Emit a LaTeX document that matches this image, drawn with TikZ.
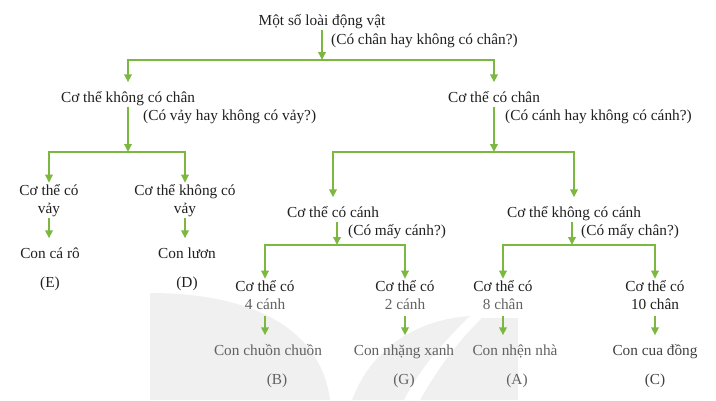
\documentclass[tikz,border=0pt]{standalone}
\usepackage{fontspec}
\setmainfont{Liberation Serif}
\usetikzlibrary{arrows.meta}
\definecolor{cay}{RGB}{124,184,64}
\definecolor{mo}{RGB}{240,240,240}
\tikzset{
  nhan/.style={anchor=base,inner sep=1pt,align=center,text=black!88,font=\fontsize{15.3}{18}\selectfont},
  mot/.style={nhan,text height=18.5pt,text depth=3.5pt},
  hoi/.style={nhan,anchor=base west},
  nhat/.style={text=black!62},
  duong/.style={color=cay,line width=1.8pt},
  ten/.style={duong,-{Triangle[length=8pt,width=7.5pt]}},
}
\begin{document}
\begin{tikzpicture}[x=1pt,y=-1pt]
  \useasboundingbox (0,0) rectangle (716,400);
  % nen mo
  \fill[mo] (150,400) -- (150,293) .. controls (262,293) and (322,335) .. (330,400) -- cycle;
  \fill[mo] (352,400) .. controls (370,352) and (412,320) .. (470,316) .. controls (440,345) and (418,372) .. (404,400) -- cycle;
  \fill[mo] (420,400) .. controls (436,372) and (456,343) .. (482,318) -- (518,318) -- (518,400) -- cycle;

  % cap 0
  \draw (322,25) node[name=root,mot,text height=11pt] {Một số loài động vật};
  \draw (330,44) node[name=q0,hoi] {(Có chân hay không có chân?)};
  \coordinate (j0) at (322,60);
  % cap 1
  \draw (128,102) node[name=khong,mot] {Cơ thể không có chân};
  \draw (142,120) node[name=q1,hoi] {(Có vảy hay không có vảy?)};
  \coordinate (j1) at (128,152);
  \draw (494,102) node[name=chan,mot] {Cơ thể có chân};
  \draw (504,120) node[name=q2,hoi] {(Có cánh hay không có cánh?)};
  \coordinate (j2) at (494,152);
  % nhanh trai
  \draw (49,213) node[name=vay,nhan] {Cơ thể có\\vảy};
  \draw (185,213) node[name=kvay,nhan] {Cơ thể không có\\vảy};
  \draw (50,258) node[name=caro,mot] {Con cá rô};
  \draw (187,258) node[name=luon,mot] {Con lươn};
  \draw (50,287) node[name=E,nhan] {(E)};
  \draw (187,287) node[name=D,nhan] {(D)};
  % nhanh phai
  \draw (333,217) node[name=canh,mot] {Cơ thể có cánh};
  \draw (347,235) node[name=q3,hoi] {(Có mấy cánh?)};
  \coordinate (j3) at (337,245);
  \draw (574,217) node[name=kcanh,mot] {Cơ thể không có cánh};
  \draw (580,235) node[name=q4,hoi] {(Có mấy chân?)};
  \coordinate (j4) at (572,245);
  % hang duoi
  \draw (265,309) node[name=c4,nhan] {Cơ thể có\\\textcolor{black!62}{4 cánh}};
  \draw (405,309) node[name=c2,nhan] {Cơ thể có\\\textcolor{black!62}{2 cánh}};
  \draw (503,309) node[name=c8,nhan] {Cơ thể có\\\textcolor{black!62}{8 chân}};
  \draw (655,309) node[name=c10,nhan] {Cơ thể có\\10 chân};
  \draw (268,355) node[name=chuon,mot,nhat] {Con chuồn chuồn};
  \draw (404,355) node[name=nhang,mot,nhat] {Con nhặng xanh};
  \draw (515,355) node[name=nhen,mot,nhat] {Con nhện nhà};
  \draw (655,355) node[name=cua,mot,text=black!75] {Con cua đồng};
  \draw (277,384) node[name=B,nhan,nhat] {(B)};
  \draw (404,384) node[name=G,nhan,nhat] {(G)};
  \draw (517,384) node[name=A,nhan,nhat] {(A)};
  \draw (655,384) node[name=C,nhan,text=black!75] {(C)};

  % mui ten
  \draw[ten] (root) -- (j0);
  \draw[ten] (j0) -| (khong.north);
  \draw[ten] (j0) -| (chan.north);
  \draw[ten] (khong) -- (j1);
  \draw[ten] (j1) -| (vay.north);
  \draw[ten] (j1) -| (kvay.north);
  \draw[ten] (chan) -- (j2);
  \draw[ten] (j2) -| (canh.north);
  \draw[ten] (j2) -| (kcanh.north);
  \draw[ten] (canh.south -| j3) -- (j3);
  \draw[ten] (j3) -| (c4.north);
  \draw[ten] (j3) -| (c2.north);
  \draw[ten] (kcanh.south -| j4) -- (j4);
  \draw[ten] (j4) -| (c8.north);
  \draw[ten] (j4) -| (c10.north);
  %
  \draw[ten] (vay.south) -- (vay.south |- caro.north);
  \draw[ten] (kvay.south) -- (kvay.south |- luon.north);
  \draw[ten,shorten <=6pt] (c4.south) -- (c4.south |- chuon.north);
  \draw[ten,shorten <=6pt] (c2.south) -- (c2.south |- nhang.north);
  \draw[ten,shorten <=6pt] (c8.south) -- (c8.south |- nhen.north);
  \draw[ten,shorten <=6pt] (c10.south) -- (c10.south |- cua.north);
\end{tikzpicture}
\end{document}
